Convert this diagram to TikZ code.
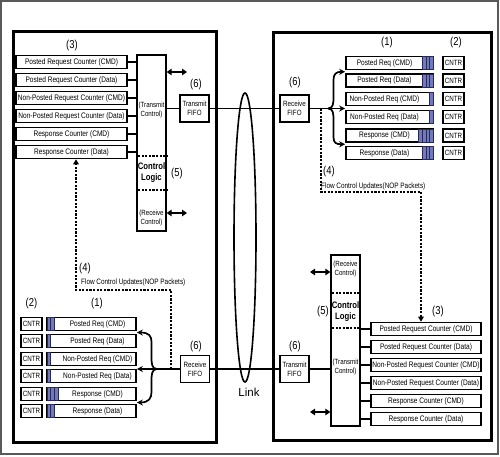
\documentclass[tikz,border=0pt]{standalone}
\usepackage{fontspec}
\setmainfont[FakeStretch=0.82]{Liberation Sans}
\newfontfamily\linkfont{Liberation Sans}
\usetikzlibrary{arrows.meta,calc}
\begin{document}
\begin{tikzpicture}[x=1pt,y=-1pt,
  frame/.style={line width=1.2pt, draw=black!65},
  panel/.style={line width=3pt},
  ctr/.style={draw, line width=1.6pt, minimum width=111pt, minimum height=13pt, inner sep=0pt, font=\fontsize{8}{8}\selectfont},
  que/.style={draw, line width=1.6pt, minimum width=87pt, minimum height=13pt, inner sep=0pt},
  qtext/.style={font=\fontsize{8}{8}\selectfont, inner sep=0pt},
  cntr/.style={draw, line width=1.6pt, minimum width=21pt, minimum height=13pt, inner sep=0pt, font=\fontsize{7.6}{8}\selectfont},
  fifo/.style={draw, line width=1.6pt, minimum width=29pt, minimum height=27pt, inner sep=0pt, align=center, font=\fontsize{7.6}{8.8}\selectfont},
  cbox/.style={draw, line width=1.3pt, minimum width=29pt, inner sep=0pt},
  ctext/.style={align=center, font=\fontsize{7.5}{9}\selectfont, inner sep=0pt},
  cbold/.style={align=center, font=\bfseries\fontsize{9.4}{11}\selectfont, inner sep=0pt},
  lbl/.style={font=\fontsize{11.5}{12}\selectfont, inner sep=0pt},
  note/.style={font=\fontsize{7.8}{9}\selectfont, inner sep=0pt, anchor=west},
  conn/.style={line width=1.6pt},
  dbl/.style={line width=1.9pt, {Triangle[length=5pt,width=6.5pt]}-{Triangle[length=5pt,width=6.5pt]}},
  brc/.style={line width=1.7pt, -{Stealth[length=6pt,width=6pt]}},
  dsh/.style={line width=1.7pt, dash pattern=on 2.2pt off 1.4pt},
  dsharr/.style={dsh, -{Triangle[length=5pt,width=5.5pt]}},
  stripe/.style={fill={rgb,255:red,112;green,122;blue,186}, draw={rgb,255:red,40;green,40;blue,90}, line width=0.5pt}
]
\useasboundingbox (0,0) rectangle (500,456);
\draw[frame] (1,1) rectangle (498,454);
\draw[panel] (13,31) rectangle (216,442);
\draw[panel] (273,32) rectangle (491,440);

% ---------- left panel, top: counters (3) and control logic (5)
\foreach \i/\y/\t in {1/62/Posted Request Counter (CMD), 2/80/Posted Request Counter (Data), 3/98/Non-Posted Request Counter (CMD), 4/116/Non-Posted Request Counter (Data), 5/134/Response Counter (CMD), 6/152/Response Counter (Data)}
  \node[ctr] (lc\i) at (71.5,\y) {\t};
\node[lbl] (l3) at (72,46) {(3)};
\node[cbox, minimum height=176pt] (cl) at (151.5,143) {};
\foreach \i in {1,...,6} \draw[conn] (lc\i.east) -- (lc\i.east -| cl.west);
\node[ctext] (cltx) at (151.5,110) {(Transmit\\Control)};
\node[cbold] (cllg) at (151.5,173) {Control\\Logic};
\node[ctext] (clrx) at (151.5,218) {(Receive\\Control)};
\draw[dsh] (138,156) -- (168,156);
\draw[dsh] (138,190) -- (168,190);
\node[lbl] (l5) at (177,174) {(5)};
\coordinate (la1) at (187,72);
\coordinate (la2) at (187,213);
\draw[dbl] (la1 -| cl.east) -- (la1);
\draw[dbl] (la2 -| cl.east) -- (la2);

% transmit FIFO left, receive FIFO right
\node[fifo] (tf) at (194.5,108.5) {Transmit\\FIFO};
\node[lbl] (l6a) at (196,85) {(6)};
\node[fifo] (rf) at (294.5,108.5) {Receive\\FIFO};
\node[lbl] (l6b) at (295,83) {(6)};
\draw[conn] (tf.west -| cl.east) -- (tf.west);
\draw[conn] (tf.east) -- (rf.west);

% link ellipse
\draw[line width=1.6pt] (245,237.5) ellipse [x radius=11pt, y radius=144.5pt];
\node[font=\linkfont\fontsize{11.5}{12}\selectfont, inner sep=0pt] (link) at (249,392) {Link};

% ---------- right panel, top: queues (1) and CNTR (2)
\foreach \i/\y/\t in {1/63/Posted Req (CMD), 2/80.5/Posted Req (Data), 3/99/Non-Posted Req (CMD), 4/117/Non-Posted Req (Data), 5/135.5/Response (CMD), 6/153/Response (Data)}
  \node[que, label={[qtext, xshift=-5pt]center:\t}] (rq\i) at (389.5,\y) {};
\foreach \i/\y in {1/63,2/80.5,3/99,4/117,5/135.5,6/153}
  \node[cntr] (rc\i) at (453.5,\y) {CNTR};
\foreach \i/\n in {1/3,2/3,3/1,4/1,5/4,6/3}
  \foreach \k in {1,...,\n}
    \draw[stripe] ($(rq\i.north east)+({-\k*3.6-0.8},0.8)$) rectangle ($(rq\i.south east)+({-(\k-1)*3.6-0.8},-0.8)$);
\node[lbl] (r1) at (387,43) {(1)};
\node[lbl] (r2) at (456,43) {(2)};

\coordinate (rtip) at (328,108.5);
\draw[conn] (rf.east) -- (rtip);
\coordinate (rt1) at ($(rq1.south west)!.5!(rq2.north west)$);
\coordinate (rt3) at ($(rq5.south west)!.5!(rq6.north west)$);
\draw[brc] (rtip) .. controls (333.5,108.5) and (333.5,103) .. (333.5,96) -- (333.5,80) .. controls (333.5,74) and (336,71.75) .. (rt1);
\draw[brc] (rtip) -- (rtip -| rq3.west);
\draw[brc] (rtip) .. controls (333.5,108.5) and (333.5,114) .. (333.5,121) -- (333.5,137) .. controls (333.5,143) and (336,144.25) .. (rt3);

% ---------- left panel, bottom: CNTR (2) and queues (1)
\foreach \i/\y/\t in {1/324/Posted Req (CMD), 2/341/Posted Req (Data), 3/359/Non-Posted Req (CMD), 4/376/Non-Posted Req (Data), 5/394/Response (CMD), 6/411/Response (Data)}
  \node[que, minimum width=89pt, label={[qtext, xshift=6pt]center:\t}] (lq\i) at (91.5,\y) {};
\foreach \i/\y in {1/324,2/341,3/359,4/376,5/394,6/411}
  \node[cntr] (lk\i) at (31.5,\y) {CNTR};
\foreach \i/\n in {1/2,2/1,3/1,4/1,5/3,6/2}
  \foreach \k in {1,...,\n}
    \draw[stripe] ($(lq\i.north west)+({(\k-1)*3.6+0.8},0.8)$) rectangle ($(lq\i.south west)+({\k*3.6+0.8},-0.8)$);
\node[lbl] (l2) at (31.5,304) {(2)};
\node[lbl] (l1) at (97,304) {(1)};

\node[fifo] (lrf) at (195,369) {Receive\\FIFO};
\node[lbl] (l6c) at (196,347) {(6)};
\node[fifo] (rtf) at (294.5,369) {Transmit\\FIFO};
\node[lbl] (l6d) at (295,347) {(6)};
\draw[conn] (lrf.east) -- (rtf.west);

\coordinate (ltip) at (157,369);
\draw[conn] (lrf.west) -- (ltip);
\coordinate (lt1) at ($(lq1.south east)!.5!(lq2.north east)$);
\coordinate (lt3) at ($(lq5.south east)!.5!(lq6.north east)$);
\draw[brc] (ltip) .. controls (151.5,369) and (151.5,363) .. (151.5,356) -- (151.5,342) .. controls (151.5,336) and (149,332.5) .. (lt1);
\draw[brc] (ltip) -- (ltip -| lq3.east);
\draw[brc] (ltip) .. controls (151.5,369) and (151.5,375) .. (151.5,382) -- (151.5,392) .. controls (151.5,398) and (149,402.5) .. (lt3);

% ---------- right panel, bottom: control logic (5) and counters (3)
\node[cbox, minimum height=171pt] (rcl) at (345.5,340.5) {};
\foreach \i/\y/\t in {1/329/Posted Request Counter (CMD), 2/347/Posted Request Counter (Data), 3/365/Non-Posted Request Counter (CMD), 4/383/Non-Posted Request Counter (Data), 5/401/Response Counter (CMD), 6/419/Response Counter (Data)}
  \node[ctr, minimum width=110pt] (rk\i) at (426,\y) {\t};
\foreach \i in {1,...,6} \draw[conn] (rk\i.west -| rcl.east) -- (rk\i.west);
\node[lbl] (r3) at (438,312) {(3)};
\node[ctext] (rcrx) at (345.5,269) {(Receive\\Control)};
\node[cbold] (rclg) at (345.5,311.5) {Control\\Logic};
\node[ctext] (rctx) at (345.5,367) {(Transmit\\Control)};
\draw[dsh] (332,293) -- (359,293);
\draw[dsh] (332,328) -- (359,328);
\node[lbl] (r5) at (323,312) {(5)};
\draw[conn] (rtf.east) -- (rtf.east -| rcl.west);
\coordinate (ra1) at (310,272);
\coordinate (ra2) at (310,412);
\draw[dbl] (ra1) -- (ra1 -| rcl.west);
\draw[dbl] (ra2) -- (ra2 -| rcl.west);

% ---------- flow control updates (4)
\coordinate (rd0) at (321,108.5);
\coordinate (rd1) at (421,192);
\draw[dsharr] (rd0) |- (rd1) -- (rd1 |- rk1.north);
\node[lbl, anchor=west] (r4) at (323,172) {(4)};
\node[note] (rfl) at (321,186) {Flow Control Updates(NOP Packets)};

\coordinate (ld0) at (171,369);
\coordinate (ld1) at (76,290);
\draw[dsharr] (ld0) |- (ld1) -- (ld1 |- lc6.south);
\node[lbl, anchor=west] (l4) at (79,269) {(4)};
\node[note] (lfl) at (81,282) {Flow Control Updates(NOP Packets)};
\end{tikzpicture}
\end{document}
